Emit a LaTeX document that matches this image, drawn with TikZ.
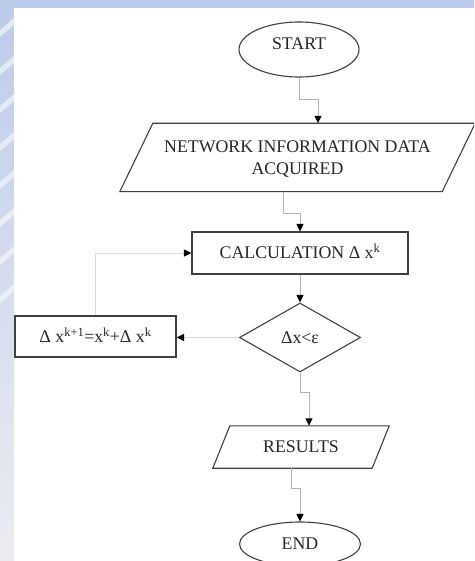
\documentclass[tikz,border=0pt]{standalone}
\usepackage{fontspec}
\setmainfont{Liberation Serif}
\usetikzlibrary{shapes.geometric,arrows.meta,calc}
\definecolor{bgtop}{RGB}{188,203,236}
\definecolor{bgbot}{RGB}{236,237,241}
\begin{document}
\begin{tikzpicture}[x=1pt,y=-1pt,
  outline/.style={draw=black!75, line width=1.1pt},
  shp/.style={text=black!85, font=\fontsize{17.8pt}{22pt}\selectfont, inner sep=0pt},
  capc/.style={text height=11.8pt, text depth=0pt},
  conn/.style={draw=black!30, line width=1pt, -{Triangle[length=7.5pt,width=7pt,color=black]}},
  lconn/.style={conn, draw=black!15},
]
\useasboundingbox (0,0) rectangle (474,561);
\clip (0,0) rectangle (474,561);
% background
\shade[top color=bgtop, bottom color=bgbot] (0,0) rectangle (474,561);
\foreach \yy in {30,68,106,144,182,220,258,296}
  \fill[white,opacity=0.55] (0,\yy) -- (14,\yy-12) -- (14,\yy-5) -- (0,\yy+7) -- cycle;
\fill[white] (14,8) rectangle (474,561);

% nodes
\node[shp, outline, ellipse, minimum width=120pt, minimum height=55pt,
      text height=11.8pt, text depth=11pt] (start) at (299,49.5) {START};

\node[shp, minimum width=322pt, minimum height=68pt, align=center, text depth=0pt]
      (data) at (297.5,157.5) {NETWORK INFORMATION DATA\\ACQUIRED};
\draw[outline] ([xshift=16.5pt]data.north west) -- ([xshift=16.5pt]data.north east)
  -- ([xshift=-16.5pt]data.south east) -- ([xshift=-16.5pt]data.south west) -- cycle;

\node[shp, capc, outline, rectangle, minimum width=216pt, minimum height=42pt]
      (calc) at (300,253) {CALCULATION Δ x\textsuperscript{k}};

\node[shp, capc, outline, diamond, aspect=1.75, minimum width=121pt, minimum height=69pt]
      (dec) at (300,337.5) {Δx<ε};

\node[shp, capc, outline, rectangle, minimum width=161pt, minimum height=41pt]
      (upd) at (95.5,336.5) {Δ x\textsuperscript{k+1}=x\textsuperscript{k}+Δ x\textsuperscript{k}};

\node[shp, capc, minimum width=159pt, minimum height=42pt] (res) at (301,447) {RESULTS};
\draw[outline] ([xshift=8.5pt]res.north west) -- ([xshift=8.5pt]res.north east)
  -- ([xshift=-8.5pt]res.south east) -- ([xshift=-8.5pt]res.south west) -- cycle;

\node[shp, capc, outline, ellipse, minimum width=121pt, minimum height=44pt]
      (endn) at (300,544) {END};

% connectors
\draw[conn] (start.south) -- ++(0,22) -| ([xshift=20.5pt]data.north);
\draw[conn] ([xshift=-14.5pt]data.south) -- ++(0,22) -| (calc.north);
\draw[conn] (calc.south) -- (dec.north);
\draw[conn] (dec.south) -- ++(0,20) -| ([xshift=8pt]res.north);
\draw[conn] ([xshift=-10pt]res.south) -- ++(0,20) -| (endn.north);
\draw[lconn] (dec.west) -- (dec.west -| upd.east);
\draw[lconn] (upd.north) |- (calc.west);
\end{tikzpicture}
\end{document}
